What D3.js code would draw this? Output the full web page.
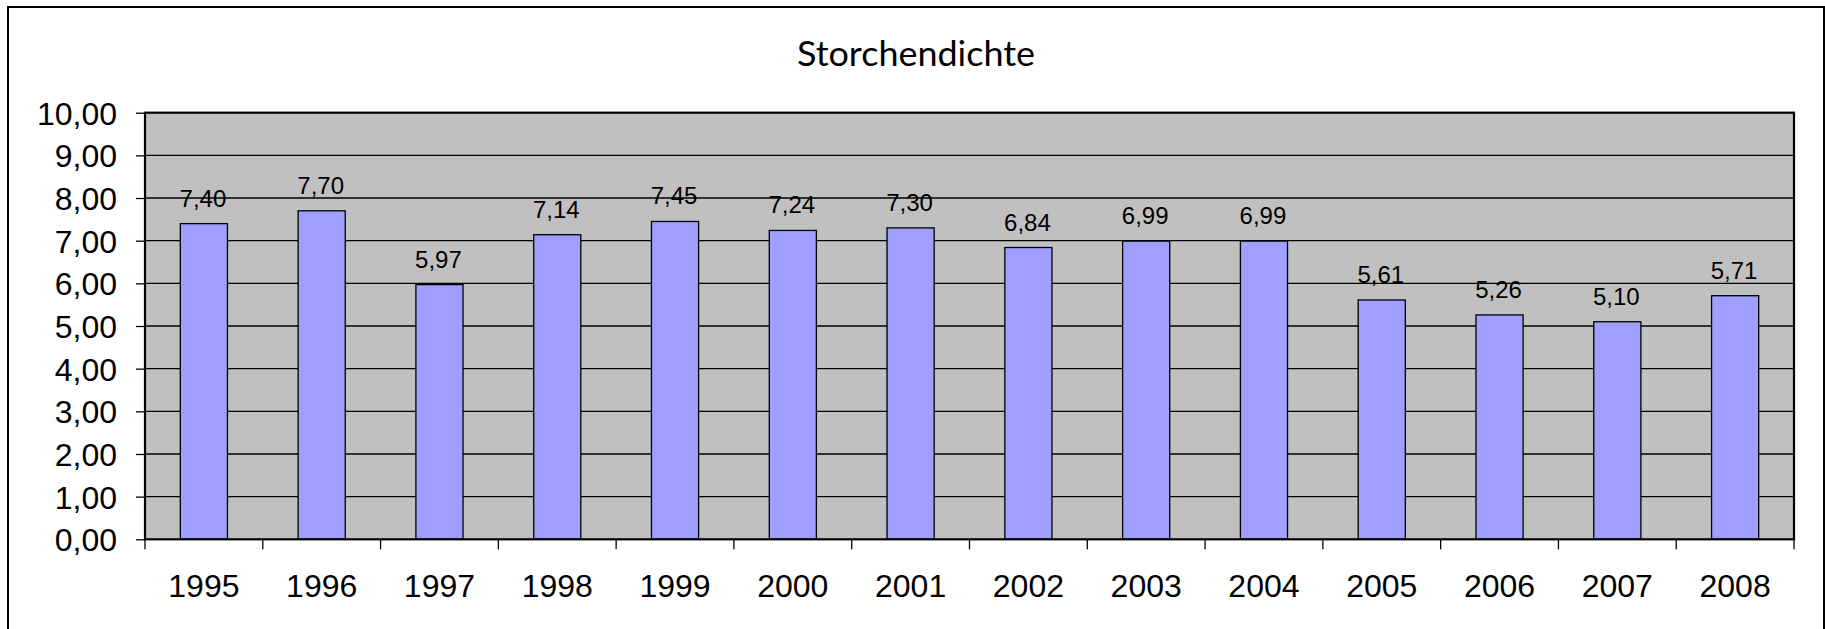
<!DOCTYPE html>
<html>
<head>
<meta charset="utf-8">
<style>

html, body {
  margin: 0;
  background: #fff;
  overflow: hidden;
}

text {
  font-family: "Liberation Sans", Arial, sans-serif;
  fill: #000;
}

.title {
  font-family: Lato, "Open Sans", sans-serif;
  font-size: 35px;
}

.ylab { font-size: 32px; }
.xlab { font-size: 32px; }
.vlab { font-size: 24px; }

.grid line {
  stroke: #000;
  stroke-width: 1.3px;
}

.bars rect {
  fill: #9f9fff;
  stroke: #000;
  stroke-width: 1.3px;
}

</style>
<script src="https://d3js.org/d3.v7.min.js"></script>
</head>
<body>
<svg width="1825" height="629"></svg>
<script>

var years = ["1995", "1996", "1997", "1998", "1999", "2000", "2001", "2002", "2003", "2004", "2005", "2006", "2007", "2008"];
var density = [7.40, 7.70, 5.97, 7.14, 7.45, 7.24, 7.30, 6.84, 6.99, 6.99, 5.61, 5.26, 5.10, 5.71];
var yTicks = [0, 1, 2, 3, 4, 5, 6, 7, 8, 9, 10];

var svg = d3.select("svg");
var comma = function(v) { return d3.format(".2f")(v).replace(".", ","); };

// chart frame (bottom edge runs off the picture)
svg.append("rect")
    .attr("x", 8).attr("y", 7)
    .attr("width", 1816).attr("height", 660)
    .attr("fill", "#fff")
    .attr("stroke", "#000")
    .attr("stroke-width", 2);

var plot = {left: 145, top: 112.7, right: 1794, bottom: 539.3};

var x = d3.scaleBand()
    .domain(years)
    .range([plot.left, plot.right])
    .paddingInner(0.6)
    .paddingOuter(0.3);

var y = d3.scaleLinear()
    .domain([0, 10])
    .range([plot.bottom, plot.top]);

svg.append("text")
    .attr("class", "title")
    .attr("x", 916).attr("y", 66)
    .attr("text-anchor", "middle")
    .attr("textLength", 238)
    .attr("lengthAdjust", "spacingAndGlyphs")
    .text("Storchendichte");

// plot background
svg.append("rect")
    .attr("x", plot.left).attr("y", plot.top)
    .attr("width", plot.right - plot.left).attr("height", plot.bottom - plot.top)
    .attr("fill", "#c0c0c0");

svg.append("g")
    .attr("class", "grid")
  .selectAll("line")
  .data(yTicks.slice(1, -1))
  .enter().append("line")
    .attr("x1", plot.left).attr("x2", plot.right)
    .attr("y1", d => y(d)).attr("y2", d => y(d));

svg.append("g")
    .attr("class", "bars")
  .selectAll("rect")
  .data(density)
  .enter().append("rect")
    .attr("x", (d, i) => x(years[i]))
    .attr("width", x.bandwidth())
    .attr("y", d => y(d))
    .attr("height", d => y(0) - y(d));

svg.append("rect")
    .attr("x", plot.left).attr("y", plot.top)
    .attr("width", plot.right - plot.left).attr("height", plot.bottom - plot.top)
    .attr("fill", "none")
    .attr("stroke", "#000")
    .attr("stroke-width", 2.2);

// y axis
var yAxis = svg.append("g")
    .attr("transform", "translate(" + plot.left + ",0)")
    .call(d3.axisLeft(y).tickValues(yTicks).tickSize(9).tickPadding(19).tickFormat(comma));
yAxis.select(".domain").remove();
yAxis.selectAll(".tick line").attr("stroke", "#000").attr("stroke-width", 1.3);
yAxis.selectAll(".tick text")
    .attr("class", "ylab")
    .attr("font-family", null).attr("font-size", null)
    .attr("dy", "0.36em");

// x axis, ticks between categories
var bounds = years.map((d, i) => plot.left + i * x.step()).concat([plot.right]);
svg.append("g")
  .selectAll("line")
  .data(bounds)
  .enter().append("line")
    .attr("x1", d => d).attr("x2", d => d)
    .attr("y1", plot.bottom).attr("y2", plot.bottom + 10)
    .attr("stroke", "#000")
    .attr("stroke-width", 1.3);

svg.append("g")
  .selectAll("text")
  .data(years)
  .enter().append("text")
    .attr("class", "xlab")
    .attr("x", d => x(d) + x.bandwidth() / 2)
    .attr("y", plot.bottom + 58)
    .attr("text-anchor", "middle")
    .text(d => d);

// value labels
svg.append("g")
  .selectAll("text")
  .data(density)
  .enter().append("text")
    .attr("class", "vlab")
    .attr("x", (d, i) => x(years[i]) + x.bandwidth() / 2 - 1)
    .attr("y", d => y(d) - 17)
    .attr("text-anchor", "middle")
    .text(comma);

</script>
</body>
</html>
